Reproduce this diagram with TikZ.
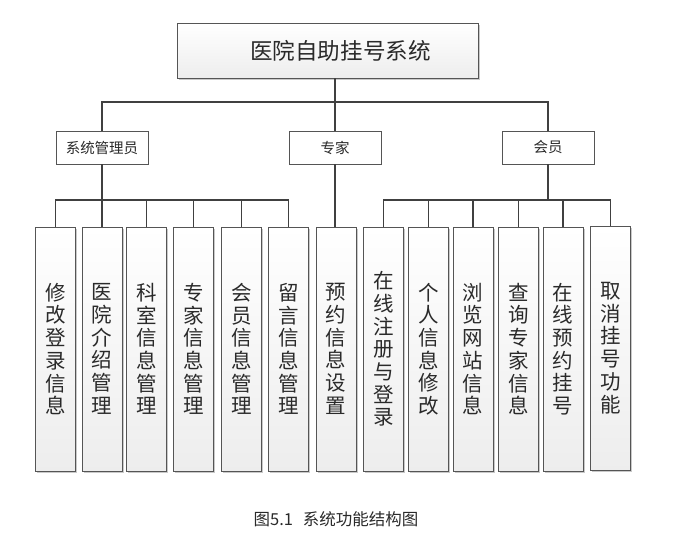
\documentclass[tikz,border=0pt]{standalone}
\usepackage{fontspec}
\setmainfont{Noto Sans CJK SC}
\usetikzlibrary{positioning,shadows}
\definecolor{linegray}{HTML}{404040}
\definecolor{boxgray}{HTML}{555555}
\definecolor{inkgray}{HTML}{2A2A2A}
\tikzset{
 link/.style={draw=linegray,line width=1.1pt},
 topbox/.style={draw=boxgray,line width=0.9pt,top color=white,bottom color=gray!14,
  minimum width=301,minimum height=55,text=inkgray,font=\fontsize{22.6}{24}\selectfont,
  drop shadow={shadow xshift=1.6pt,shadow yshift=-1.6pt,fill=gray!70,opacity=0.6}},
 rolebox/.style={draw=boxgray,line width=0.9pt,fill=white,text=inkgray,
  minimum width=92,minimum height=33,font=\fontsize{14.5}{16}\selectfont},
 funcbox/.style={draw=boxgray,line width=0.9pt,top color=white,bottom color=gray!14,
  minimum width=40,minimum height=244,inner sep=0pt,align=center,text=inkgray,
  font=\fontsize{20.5}{22.7}\selectfont,
  drop shadow={shadow xshift=1.6pt,shadow yshift=-1.6pt,fill=gray!70,opacity=0.6}},
}
\begin{document}
\begin{tikzpicture}[x=1pt,y=-1pt]
 \useasboundingbox[fill=white] (0,0) rectangle (673,554);
 \node[topbox] (sys) at (327.5,50.5) {\hspace{26pt}医院自助挂号系统};
 \node[rolebox] (gly) at (102,147.5) {系统管理员};
 \node[rolebox] (zj) at (335,147.5) {专家};
 \node[rolebox] (hy) at (548,147.5) {会员};
 \foreach \i/\x/\t in {1/55.5/修\\改\\登\\录\\信\\息,
  2/102/医\\院\\介\\绍\\管\\理,
  3/146.5/科\\室\\信\\息\\管\\理,
  4/193.5/专\\家\\信\\息\\管\\理,
  5/241.5/会\\员\\信\\息\\管\\理,
  6/288.5/留\\言\\信\\息\\管\\理,
  7/336/预\\约\\信\\息\\设\\置,
  8/383.5/在\\线\\注\\册\\与\\登\\录,
  9/428.5/个\\人\\信\\息\\修\\改,
  10/473/浏\\览\\网\\站\\信\\息,
  11/518.5/查\\询\\专\\家\\信\\息,
  12/563/在\\线\\预\\约\\挂\\号}
  \node[funcbox] (f\i) at (\x,349) {\t};
 \node[funcbox] (f13) at (610.5,348) {取\\消\\挂\\号\\功\\能};
 \draw[link] (gly.north) -- (gly.north |- 0,102) -| (hy.north);
 \draw[link] (sys.south -| zj.north) -- (zj.north);
 \draw[link] (zj.south) -- (zj.south |- f7.north);
 \draw[link] (gly.south) -- (gly.south |- 0,200);
 \draw[link] (hy.south) -- (hy.south |- 0,200);
 \draw[link] (f1.north) -- (f1.north |- 0,200) -| (f6.north);
 \draw[link] (f8.north) -- (f8.north |- 0,200) -| (f13.north);
 \foreach \i in {2,...,5,9,10,11,12}
  \draw[link] (f\i.north) -- (f\i.north |- 0,200);
 \node[text=inkgray,font=\fontsize{16.5}{18}\selectfont] (cap) at (336,519) {图5.1\hspace{0.6em}系统功能结构图};
\end{tikzpicture}
\end{document}
